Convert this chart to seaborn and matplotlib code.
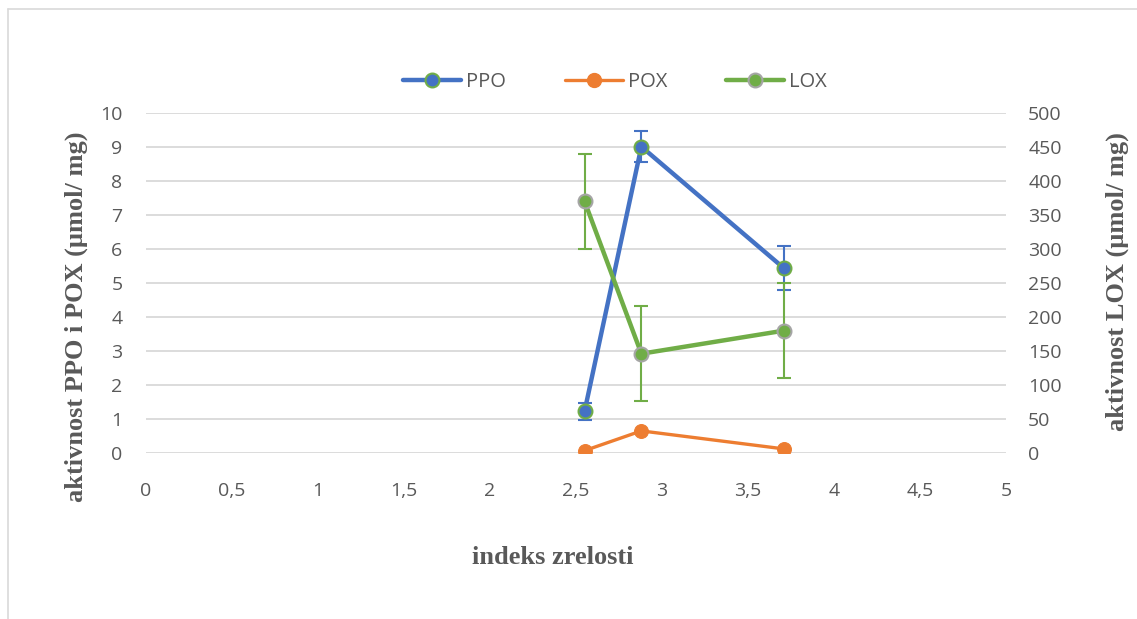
import matplotlib
matplotlib.use("Agg")
import matplotlib.pyplot as plt
import seaborn as sns
from matplotlib.lines import Line2D

# indeks zrelosti
zrelost = [2.55, 2.88, 3.71]

# aktivnost PPO i POX (lijeva os)
ppo = [1.23, 9.01, 5.43]
ppo_err = [0.25, 0.45, 0.65]
pox = [0.07, 0.65, 0.12]

# aktivnost LOX (desna os)
lox = [370, 146, 180]
lox_err = [70, 70, 70]

x_ticks = [0, 0.5, 1, 1.5, 2, 2.5, 3, 3.5, 4, 4.5, 5]
x_tick_labels = ["0", "0,5", "1", "1,5", "2", "2,5", "3", "3,5", "4", "4,5", "5"]
y_ticks_left = list(range(0, 11))
y_ticks_right = list(range(0, 501, 50))

PLAVA = "#4472C4"
NARANCASTA = "#ED7D31"
ZELENA = "#70AD47"
SIVA = "#A5A5A5"
TEKST = "#595959"

sns.set_style("white")
plt.rcParams["font.family"] = ["Open Sans", "DejaVu Sans"]

W, H = 1137, 619
fig = plt.figure(figsize=(W / 100, H / 100), dpi=100)
ax = fig.add_axes([146 / W, 1 - 453 / H, 860 / W, 340 / H])
ax2 = ax.twinx()

# okvir grafikona
fig.add_artist(Line2D([8 / W, 1.0], [1 - 9 / H, 1 - 9 / H], transform=fig.transFigure,
                      color="#D9D9D9", lw=1.2))
fig.add_artist(Line2D([8 / W, 8 / W], [0, 1 - 9 / H], transform=fig.transFigure,
                      color="#D9D9D9", lw=1.2))

# PPO i POX
ax.errorbar(zrelost, ppo, yerr=ppo_err, fmt="none", ecolor=PLAVA, elinewidth=1.5,
            capsize=5, capthick=1.5, zorder=2)
sns.lineplot(x=zrelost, y=ppo, ax=ax, color=PLAVA, lw=3.2, marker="o", markersize=10,
             markerfacecolor=PLAVA, markeredgecolor=ZELENA, markeredgewidth=1.5, zorder=3)
sns.lineplot(x=zrelost, y=pox, ax=ax, color=NARANCASTA, lw=2.4, marker="o", markersize=10,
             markerfacecolor=NARANCASTA, markeredgecolor=NARANCASTA, zorder=3)

# LOX
ax2.errorbar(zrelost, lox, yerr=lox_err, fmt="none", ecolor=ZELENA, elinewidth=1.5,
             capsize=5, capthick=1.5, zorder=2)
sns.lineplot(x=zrelost, y=lox, ax=ax2, color=ZELENA, lw=3.2, marker="o", markersize=10,
             markerfacecolor=ZELENA, markeredgecolor=SIVA, markeredgewidth=1.5, zorder=3)

ax.set_xlim(0, 5)
ax.set_ylim(0, 10)
ax2.set_ylim(0, 500)
ax.set_xticks(x_ticks)
ax.set_xticklabels(x_tick_labels)
ax.set_yticks(y_ticks_left)
ax2.set_yticks(y_ticks_right)

ax.yaxis.grid(True, color="#D9D9D9", lw=1.3)
ax.set_axisbelow(True)
for a in (ax, ax2):
    for s in a.spines.values():
        s.set_visible(False)

ax.tick_params(axis="x", length=0, pad=21, labelsize=14, labelcolor=TEKST)
ax.tick_params(axis="y", length=0, pad=17, labelsize=14, labelcolor=TEKST)
ax2.tick_params(axis="y", length=0, pad=16, labelsize=14, labelcolor=TEKST)

# naslovi osi
naslov = dict(family=["Liberation Serif", "DejaVu Serif"], weight="bold", size=19,
              color=TEKST, ha="center", va="center")
fig.text(553 / W, 1 - 557 / H, "indeks zrelosti", **naslov)
fig.text(76 / W, 1 - 317 / H, "aktivnost PPO i POX (µmol/ mg)", rotation=90, **naslov)
fig.text(1117 / W, 1 - 282 / H, "aktivnost LOX (µmol/ mg)", rotation=90, **naslov)

rucke = [
    Line2D([], [], color=PLAVA, lw=3.2, marker="o", markersize=10,
           markerfacecolor=PLAVA, markeredgecolor=ZELENA, markeredgewidth=1.5),
    Line2D([], [], color=NARANCASTA, lw=2.4, marker="o", markersize=10,
           markerfacecolor=NARANCASTA, markeredgecolor=NARANCASTA),
    Line2D([], [], color=ZELENA, lw=3.2, marker="o", markersize=10,
           markerfacecolor=ZELENA, markeredgecolor=SIVA, markeredgewidth=1.5),
]
leg = fig.legend(rucke, ["PPO", "POX", "LOX"], loc="center", bbox_to_anchor=(615 / W, 1 - 82 / H),
                 ncol=3, frameon=False, fontsize=14.5, handlelength=2.9, columnspacing=2.9,
                 handletextpad=0.25)
for t in leg.get_texts():
    t.set_color(TEKST)

fig.savefig("out.png", dpi=100)
